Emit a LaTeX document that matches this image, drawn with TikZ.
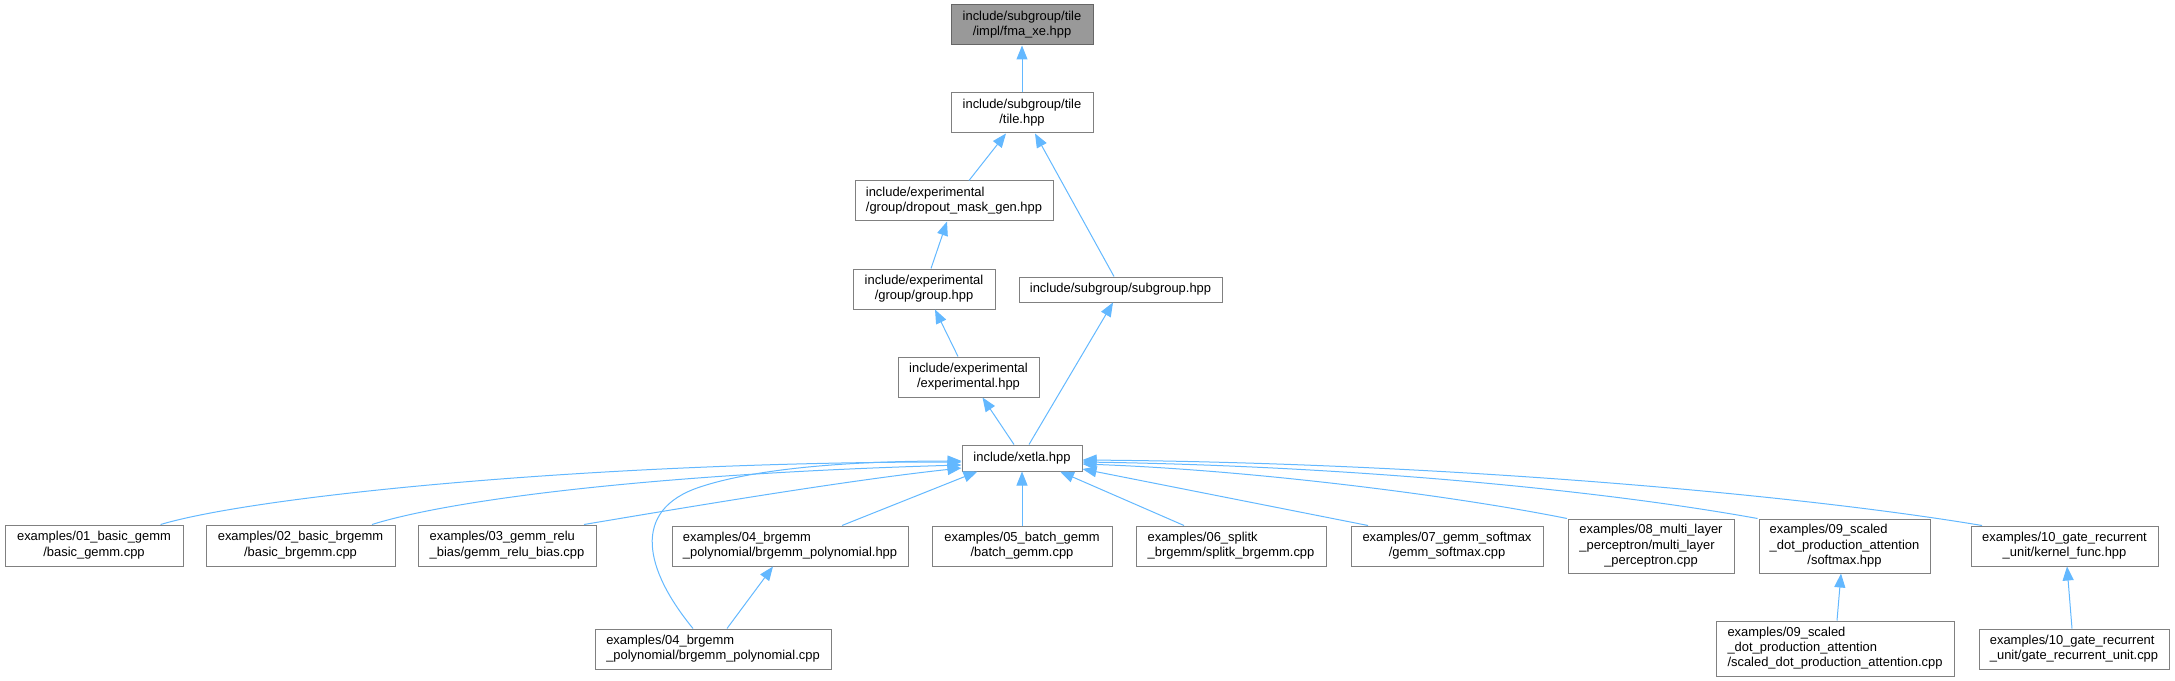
\documentclass[tikz,border=0pt]{standalone}
\usepackage{fontspec}
\setmainfont{Liberation Sans}
\usetikzlibrary{arrows.meta,calc}
\definecolor{edgeblue}{RGB}{99,184,255}
\definecolor{boxborder}{RGB}{128,128,128}
\definecolor{fmafill}{RGB}{153,153,153}
\definecolor{fmaborder}{RGB}{102,102,102}
\newcommand{\dlab}[1]{\begin{tabular}{@{}l@{}}#1\end{tabular}}
\newcommand{\dlast}[1]{\multicolumn{1}{@{}c@{}}{#1}}
\begin{document}
\begin{tikzpicture}[x=0.75pt,y=-0.75pt,
  dbox/.style={draw=boxborder,fill=white,line width=0.75pt,inner sep=0pt,
    font=\fontsize{9.7}{11.5}\selectfont,align=center},
  dedge/.style={draw=edgeblue,line width=0.75pt,-{Triangle[length=10.5pt,width=8.25pt]}}]
\useasboundingbox (0,0) rectangle (2175,681);

\node[dbox,fill=fmafill,draw=fmaborder,minimum width=142*0.75pt,minimum height=40*0.75pt] (fma) at (1022,25) {\dlab{include/subgroup/tile\\\dlast{/impl/fma\_xe.hpp}}};
\node[dbox,minimum width=142*0.75pt,minimum height=40*0.75pt] (tile) at (1022,113) {\dlab{include/subgroup/tile\\\dlast{/tile.hpp}}};
\node[dbox,minimum width=198*0.75pt,minimum height=40*0.75pt] (dropout) at (954,201) {\dlab{include/experimental\\\dlast{/group/dropout\_mask\_gen.hpp}}};
\node[dbox,minimum width=142*0.75pt,minimum height=40*0.75pt] (group) at (924,289) {\dlab{include/experimental\\\dlast{/group/group.hpp}}};
\node[dbox,minimum width=203*0.75pt,minimum height=25*0.75pt] (subgroup) at (1120.5,289.5) {include/subgroup/subgroup.hpp};
\node[dbox,minimum width=141*0.75pt,minimum height=40*0.75pt] (experimental) at (968.5,377) {\dlab{include/experimental\\\dlast{/experimental.hpp}}};
\node[dbox,minimum width=120*0.75pt,minimum height=26*0.75pt] (xetla) at (1022,458) {include/xetla.hpp};

\node[dbox,minimum width=178*0.75pt,minimum height=41*0.75pt] (n01) at (94,545.5) {\dlab{examples/01\_basic\_gemm\\\dlast{/basic\_gemm.cpp}}};
\node[dbox,minimum width=189*0.75pt,minimum height=41*0.75pt] (n02) at (300.5,545.5) {\dlab{examples/02\_basic\_brgemm\\\dlast{/basic\_brgemm.cpp}}};
\node[dbox,minimum width=178*0.75pt,minimum height=41*0.75pt] (n03) at (507,545.5) {\dlab{examples/03\_gemm\_relu\\\dlast{\_bias/gemm\_relu\_bias.cpp}}};
\node[dbox,minimum width=236*0.75pt,minimum height=40*0.75pt] (n04h) at (790,546) {\dlab{examples/04\_brgemm\\\dlast{\_polynomial/brgemm\_polynomial.hpp}}};
\node[dbox,minimum width=180*0.75pt,minimum height=40*0.75pt] (n05) at (1022,546) {\dlab{examples/05\_batch\_gemm\\\dlast{/batch\_gemm.cpp}}};
\node[dbox,minimum width=190*0.75pt,minimum height=40*0.75pt] (n06) at (1231,546) {\dlab{examples/06\_splitk\\\dlast{\_brgemm/splitk\_brgemm.cpp}}};
\node[dbox,minimum width=192*0.75pt,minimum height=40*0.75pt] (n07) at (1447,546) {\dlab{examples/07\_gemm\_softmax\\\dlast{/gemm\_softmax.cpp}}};
\node[dbox,minimum width=166*0.75pt,minimum height=54*0.75pt] (n08) at (1651,546) {\dlab{examples/08\_multi\_layer\\\_perceptron/multi\_layer\\\dlast{\_perceptron.cpp}}};
\node[dbox,minimum width=171*0.75pt,minimum height=54*0.75pt] (n09h) at (1844.5,546) {\dlab{examples/09\_scaled\\\_dot\_production\_attention\\\dlast{/softmax.hpp}}};
\node[dbox,minimum width=187*0.75pt,minimum height=40*0.75pt] (n10h) at (2064.5,546) {\dlab{examples/10\_gate\_recurrent\\\dlast{\_unit/kernel\_func.hpp}}};
\node[dbox,minimum width=236*0.75pt,minimum height=40*0.75pt] (n04c) at (713,649) {\dlab{examples/04\_brgemm\\\dlast{\_polynomial/brgemm\_polynomial.cpp}}};
\node[dbox,minimum width=238*0.75pt,minimum height=55*0.75pt] (n09c) at (1835,648.5) {\dlab{examples/09\_scaled\\\_dot\_production\_attention\\\dlast{/scaled\_dot\_production\_attention.cpp}}};
\node[dbox,minimum width=190*0.75pt,minimum height=40*0.75pt] (n10c) at (2074,649) {\dlab{examples/10\_gate\_recurrent\\\dlast{\_unit/gate\_recurrent\_unit.cpp}}};

% upper chain
\draw[dedge] (tile.north) -- (fma.south);
\draw[dedge] ($(dropout.north)+(15,0)$) -- ($(tile.south)+(-16,0)$);
\draw[dedge] ($(subgroup.north)+(-6.5,0)$) -- ($(tile.south)+(13,0)$);
\draw[dedge] ($(group.north)+(7,0)$) -- ($(dropout.south)+(-7,0)$);
\draw[dedge] ($(experimental.north)+(-10.5,0)$) -- ($(group.south)+(11,0)$);
\draw[dedge] ($(xetla.north)+(-8,0)$) -- ($(experimental.south)+(14,0)$);
\draw[dedge] ($(xetla.north)+(7,0)$) -- ($(subgroup.south)+(-7.5,0)$);

% left fan
\draw[dedge] ($(n01.north)+(66.6,0)$) .. controls (260,495) and (600,462) .. ($(xetla.west)+(0,4)$);
\draw[dedge] ($(n02.north)+(71.5,0)$) .. controls (450,500) and (650,474) .. ($(xetla.west)+(0,7)$);
\draw[dedge] ($(n03.north)+(77,0)$) .. controls (700,505) and (850,480) .. ($(xetla.west)+(0,10)$);
\draw[dedge] ($(n04c.north)+(-20,0)$) .. controls (645,570) and (630,510) .. (700,487) .. controls (760,467) and (860,461) .. ($(xetla.west)+(0,3)$);
\draw[dedge] ($(n04h.north)+(52,0)$) -- ($(xetla.south)+(-44.5,0)$);
\draw[dedge] ($(n04c.north)+(14,0)$) -- ($(n04h.south)+(-17,0)$);
\draw[dedge] (n05.north) -- (xetla.south);

% right fan
\draw[dedge] ($(n06.north)+(-47,0)$) -- ($(xetla.south)+(38,0)$);
\draw[dedge] ($(n07.north)+(-79,0)$) -- ($(xetla.east)+(0,11)$);
\draw[dedge] ($(n08.north)+(-84,0)$) .. controls (1450,495) and (1250,470) .. ($(xetla.east)+(0,6)$);
\draw[dedge] ($(n09h.north)+(-87,0)$) .. controls (1600,490) and (1350,466) .. ($(xetla.east)+(0,4)$);
\draw[dedge] ($(n10h.north)+(-82.5,0)$) .. controls (1800,495) and (1450,463) .. ($(xetla.east)+(0,2)$);
\draw[dedge] ($(n09c.north)+(2,0)$) -- ($(n09h.south)+(-3.5,0)$);
\draw[dedge] ($(n10c.north)+(-2,0)$) -- ($(n10h.south)+(2.5,0)$);
\end{tikzpicture}
\end{document}
